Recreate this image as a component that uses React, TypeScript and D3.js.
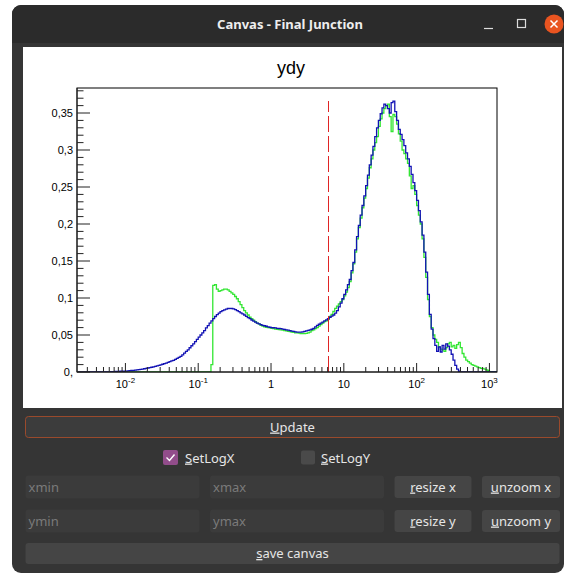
import React from "react";
import * as d3 from "d3";

// ---- data ----
const xLogMin = -2.665;
const xLogMax = 3.104;
const yMaxValue = 0.3838;
const binLogStart = -2.65;
const binLogStep = 0.025;

const blueValues: number[] = [
  0, 0, 0, 0, 0, 0, 0, 0, 0, 0,
  0, 0, 0, 0, 0, 0, 0, 0.0003, 0.0004, 0.0005,
  0.0007, 0.0008, 0.0009, 0.001, 0.001, 0.001, 0.0013, 0.0015, 0.0018, 0.002,
  0.0023, 0.0026, 0.0029, 0.0032, 0.0036, 0.004, 0.0044, 0.0049, 0.0054, 0.006,
  0.0064, 0.007, 0.0077, 0.0083, 0.0089, 0.0095, 0.0105, 0.0113, 0.012, 0.013,
  0.014, 0.015, 0.0158, 0.017, 0.0183, 0.0197, 0.021, 0.0232, 0.0255, 0.028,
  0.03, 0.0328, 0.0355, 0.038, 0.041, 0.044, 0.047, 0.05, 0.053, 0.056,
  0.0595, 0.0628, 0.066, 0.069, 0.072, 0.075, 0.0775, 0.0795, 0.0815, 0.083,
  0.084, 0.085, 0.0858, 0.086, 0.0858, 0.0852, 0.0843, 0.083, 0.0815, 0.08,
  0.0785, 0.077, 0.0752, 0.0735, 0.072, 0.0703, 0.0688, 0.0675, 0.066, 0.065,
  0.064, 0.063, 0.0625, 0.0618, 0.061, 0.0605, 0.06, 0.0598, 0.0595, 0.059,
  0.0588, 0.0585, 0.058, 0.0575, 0.057, 0.0565, 0.0558, 0.0552, 0.0548, 0.0543,
  0.054, 0.054, 0.0538, 0.0542, 0.055, 0.0555, 0.0562, 0.057, 0.0578, 0.059,
  0.061, 0.063, 0.0645, 0.066, 0.0675, 0.069, 0.0705, 0.072, 0.074, 0.0755,
  0.077, 0.0795, 0.083, 0.088, 0.093, 0.099, 0.105, 0.111, 0.118, 0.125,
  0.137, 0.148, 0.165, 0.183, 0.198, 0.212, 0.225, 0.238, 0.252, 0.266,
  0.28, 0.293, 0.305, 0.318, 0.33, 0.34, 0.349, 0.357, 0.362, 0.36,
  0.356, 0.35, 0.364, 0.366, 0.352, 0.34, 0.328, 0.321, 0.314, 0.306,
  0.296, 0.288, 0.278, 0.267, 0.256, 0.245, 0.232, 0.218, 0.203, 0.185,
  0.162, 0.135, 0.105, 0.078, 0.058, 0.045, 0.036, 0.028, 0.034, 0.027,
  0.036, 0.031, 0.038, 0.035, 0.03, 0.024, 0.016, 0.009, 0.004, 0.001,
  0, 0, 0, 0, 0, 0, 0, 0, 0, 0,
  0, 0, 0, 0, 0, 0, 0, 0, 0, 0,
];

const greenValues: (number | null)[] = [
  null, null, null, null, null, null, null, null, null, null,
  null, null, null, null, null, null, null, null, null, null,
  null, null, null, null, null, null, 0, 0, 0, 0,
  0, 0, 0, 0, 0, 0, 0, 0, 0, 0,
  0, 0, 0, 0, 0, 0, 0, 0, 0, 0,
  0, 0, 0, 0, 0, 0, 0, 0, 0, 0,
  0, 0, 0, 0, 0, 0, 0, 0, 0, 0,
  0, 0, 0, 0.01, 0.117, 0.118, 0.112, 0.109, 0.11, 0.111,
  0.112, 0.112, 0.111, 0.109, 0.107, 0.105, 0.102, 0.099, 0.095, 0.091,
  0.087, 0.083, 0.08, 0.077, 0.074, 0.072, 0.07, 0.068, 0.066, 0.065,
  0.063, 0.062, 0.061, 0.0605, 0.06, 0.0595, 0.059, 0.0585, 0.058, 0.0578,
  0.0572, 0.057, 0.0565, 0.056, 0.0555, 0.055, 0.0545, 0.054, 0.0535, 0.053,
  0.0528, 0.0525, 0.052, 0.0518, 0.052, 0.0522, 0.053, 0.054, 0.056, 0.057,
  0.0585, 0.06, 0.062, 0.064, 0.066, 0.068, 0.069, 0.071, 0.075, 0.078,
  0.082, 0.086, 0.089, 0.092, 0.095, 0.098, 0.103, 0.108, 0.114, 0.122,
  0.134, 0.146, 0.162, 0.18, 0.195, 0.208, 0.222, 0.235, 0.248, 0.262,
  0.276, 0.288, 0.3, 0.31, 0.318, 0.332, 0.342, 0.35, 0.356, 0.36,
  0.362, 0.345, 0.325, 0.348, 0.345, 0.335, 0.322, 0.312, 0.3, 0.295,
  0.288, 0.282, 0.265, 0.248, 0.252, 0.24, 0.225, 0.212, 0.2, 0.18,
  0.155, 0.128, 0.098, 0.075, 0.06, 0.05, 0.044, 0.04, 0.034, 0.031,
  0.03, 0.028, 0.033, 0.038, 0.04, 0.034, 0.036, 0.032, 0.037, 0.04,
  0.033, 0.025, 0.02, 0.016, 0.014, 0.012, 0.01, 0.009, 0.008, 0.007,
  0.006, 0.005, 0.005, 0.004, 0.003, 0.002, 0, 0, 0, 0,
];

const yTickValues = [0, 0.05, 0.1, 0.15, 0.2, 0.25, 0.3, 0.35];
const yTickLabels = ["0,", "0,05", "0,1", "0,15", "0,2", "0,25", "0,3", "0,35"];
const xDecades = [-2, -1, 0, 1, 2, 3];
const xTickBases = ["10", "10", "1", "10", "10", "10"];
const xTickExps = ["-2", "-1", "", "", "2", "3"];
const cutValue = 6;
const cutHeight = 0.366;
const chartTitle = "ydy";
const windowTitle = "Canvas - Final Junction";

const ROOT_FONT = "'Liberation Sans', Arial, Helvetica, sans-serif";
const UI_FONT = "'Noto Sans', 'Open Sans', sans-serif";

function histPoints(values: (number | null)[]): [number, number][] {
  const pts: [number, number][] = [];
  let first = -1;
  let last = -1;
  values.forEach((v, i) => {
    if (v == null) return;
    if (first < 0) first = i;
    last = i;
  });
  const edge = (i: number) => Math.pow(10, binLogStart + i * binLogStep);
  pts.push([edge(first), 0]);
  values.forEach((v, i) => {
    if (v == null) return;
    pts.push([edge(i), v], [edge(i + 1), v]);
  });
  pts.push([edge(last + 1), 0]);
  return pts;
}

function UButton({ x, y, w, h, first, rest, fill = "#454545", stroke = "none" }: any) {
  return (
    <g>
      <rect x={x} y={y} width={w} height={h} rx={3} fill={fill} stroke={stroke} strokeWidth={1} />
      <text x={x + w / 2} y={y + h / 2 + 4.5} textAnchor="middle" fontFamily={UI_FONT} fontSize={13} fill="#e6e6e6">
        <tspan textDecoration="underline">{first}</tspan>
        {rest}
      </text>
    </g>
  );
}

function Field({ x, y, w, h, placeholder }: any) {
  return (
    <g>
      <rect x={x} y={y} width={w} height={h} rx={3} fill="#3b3b3b" />
      <text x={x + 3} y={y + h / 2 + 4.5} fontFamily={UI_FONT} fontSize={13} fill="#7a7a7a">
        {placeholder}
      </text>
    </g>
  );
}

export default function App() {
  const W = 574;
  const H = 575;
  const fx0 = 77, fx1 = 497, fy0 = 88, fy1 = 372;
  const x = d3.scaleLog().domain([Math.pow(10, xLogMin), Math.pow(10, xLogMax)]).range([fx0, fx1]);
  const y = d3.scaleLinear().domain([0, yMaxValue]).range([fy1, fy0]);
  const line = d3
    .line<[number, number]>()
    .x((d) => x(d[0]))
    .y((d) => y(d[1]));

  const bluePath = line(histPoints(blueValues)) || "";
  const greenPath = line(histPoints(greenValues)) || "";

  const yMinor: number[] = [];
  for (let k = 0; k <= 38; k++) {
    const v = k / 100;
    if (v <= yMaxValue && k % 5 !== 0) yMinor.push(v);
  }
  const xMinor: number[] = [];
  for (let d = -3; d <= 3; d++) {
    for (let k = 2; k <= 9; k++) {
      const v = k * Math.pow(10, d);
      const lv = Math.log10(v);
      if (lv > xLogMin && lv < xLogMax) xMinor.push(v);
    }
  }

  const axisColor = "#222";
  const cutX = Math.round(x(cutValue)) + 0.5;

  return (
    <svg
      width={W}
      height={H}
      viewBox={`0 0 ${W} ${H}`}
      style={{ position: "absolute", left: 0, top: 0, background: "#fff" }}
    >
      {/* window */}
      <rect x={12} y={5} width={552} height={568} rx={9} fill="#353535" />
      <path d="M12,14 a9,9 0 0 1 9,-9 h534 a9,9 0 0 1 9,9 v29 h-552 z" fill="#2b2b2b" />
      <text x={290} y={29} textAnchor="middle" fontFamily={UI_FONT} fontWeight="bold" fontSize={13} fill="#eeeeee">
        {windowTitle}
      </text>
      <line x1={484} x2={493} y1={28.5} y2={28.5} stroke="#ddd" strokeWidth={1.2} />
      <rect x={517.5} y={19.5} width={8} height={8} fill="none" stroke="#ddd" strokeWidth={1.2} />
      <circle cx={554} cy={24} r={9.5} fill="#e95420" />
      <path d="M550.5,20.5 L557.5,27.5 M557.5,20.5 L550.5,27.5" stroke="#fff" strokeWidth={1.5} />

      {/* canvas */}
      <rect x={23} y={47} width={539} height={361} fill="#ffffff" />
      <text x={291} y={74} textAnchor="middle" fontFamily={ROOT_FONT} fontSize={18} fill="#000">
        {chartTitle}
      </text>

      <defs>
        <clipPath id="frameClip">
          <rect x={fx0} y={fy0 - 2} width={fx1 - fx0} height={fy1 - fy0 + 2} />
        </clipPath>
      </defs>

      <g clipPath="url(#frameClip)">
        <path d={greenPath} fill="none" stroke="#33e633" strokeWidth={1.3} />
        <path d={bluePath} fill="none" stroke="#1212b4" strokeWidth={1.3} />
      </g>

      {/* cut line */}
      <line
        x1={cutX}
        x2={cutX}
        y1={y(0)}
        y2={y(cutHeight)}
        stroke="#e02424"
        strokeWidth={1}
        strokeDasharray="16,4"
        shapeRendering="crispEdges"
      />

      {/* frame */}
      <rect x={fx0} y={fy0} width={fx1 - fx0} height={fy1 - fy0} fill="none" stroke="#000" strokeWidth={1} />

      {/* y axis */}
      <line x1={fx0} x2={fx0} y1={fy0} y2={fy1} stroke={axisColor} />
      {yTickValues.map((v, i) => (
        <g key={"yt" + i}>
          <line x1={fx0} x2={fx0 + 13} y1={y(v)} y2={y(v)} stroke={axisColor} />
          <text x={73} y={y(v) + 4} textAnchor="end" fontFamily={ROOT_FONT} fontSize={11} fill="#000">
            {yTickLabels[i]}
          </text>
        </g>
      ))}
      {yMinor.map((v, i) => (
        <line key={"ym" + i} x1={fx0} x2={fx0 + 6.5} y1={y(v)} y2={y(v)} stroke={axisColor} />
      ))}

      {/* x axis */}
      <line x1={fx0} x2={fx1} y1={fy1} y2={fy1} stroke={axisColor} />
      {xDecades.map((d, i) => {
        const px = x(Math.pow(10, d));
        return (
          <g key={"xt" + i}>
            <line x1={px} x2={px} y1={fy1} y2={fy1 - 9} stroke={axisColor} />
            <text x={px} y={388} textAnchor="middle" fontFamily={ROOT_FONT} fontSize={11} fill="#000">
              {xTickBases[i]}
              {xTickExps[i] ? (
                <tspan dy={-5} fontSize={8}>
                  {xTickExps[i]}
                </tspan>
              ) : null}
            </text>
          </g>
        );
      })}
      {xMinor.map((v, i) => (
        <line key={"xm" + i} x1={x(v)} x2={x(v)} y1={fy1} y2={fy1 - 5} stroke={axisColor} />
      ))}

      {/* controls */}
      <UButton x={25.5} y={416.5} w={534} h={21} first="U" rest="pdate" fill="#3c3c3c" stroke="#9a4a2c" />

      <rect x={163} y={450} width={15} height={15} rx={2} fill="#924d8b" />
      <path d="M166.5,457.5 L169.5,460.5 L174.5,454.5" fill="none" stroke="#fff" strokeWidth={1.4} />
      <text x={185} y={462.5} fontFamily={UI_FONT} fontSize={13} fill="#e6e6e6">
        <tspan textDecoration="underline">S</tspan>etLogX
      </text>
      <rect x={301} y={450.5} width={14} height={14} rx={2} fill="#4a4a4a" />
      <text x={321} y={462.5} fontFamily={UI_FONT} fontSize={13} fill="#e6e6e6">
        <tspan textDecoration="underline">S</tspan>etLogY
      </text>

      <Field x={25.5} y={475.5} w={174} h={23} placeholder="xmin" />
      <Field x={210} y={475.5} w={174} h={23} placeholder="xmax" />
      <UButton x={394.5} y={476} w={77} h={22} first="r" rest="esize x" />
      <UButton x={482} y={476} w={78} h={22} first="u" rest="nzoom x" />

      <Field x={25.5} y={509.5} w={174} h={23} placeholder="ymin" />
      <Field x={210} y={509.5} w={174} h={23} placeholder="ymax" />
      <UButton x={394.5} y={510} w={77} h={22} first="r" rest="esize y" />
      <UButton x={482} y={510} w={78} h={22} first="u" rest="nzoom y" />

      <UButton x={25.5} y={543} w={534} h={21} first="s" rest="ave canvas" />
    </svg>
  );
}
